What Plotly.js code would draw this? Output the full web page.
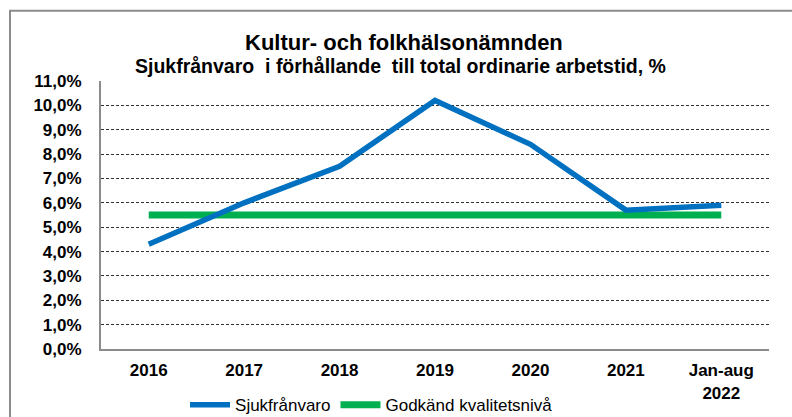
<!DOCTYPE html>
<html>
<head>
<meta charset="utf-8">
<script src="https://cdn.plot.ly/plotly-3.0.1.min.js"></script>
<style>html,body{margin:0;padding:0;background:#fff;}#chart{width:792px;height:417px;}</style>
</head>
<body>
<div id="chart"></div>
<script>
const categories = ["2016", "2017", "2018", "2019", "2020", "2021", "Jan-aug<br>2022"];
const sjukfranvaro = [4.3, 6.0, 7.5, 10.2, 8.4, 5.7, 5.9];
const godkandNiva = [5.5, 5.5, 5.5, 5.5, 5.5, 5.5, 5.5];
const yTicks = [0, 1, 2, 3, 4, 5, 6, 7, 8, 9, 10, 11];

const FONT = "Liberation Sans, Arial, sans-serif";

const traces = [
  {
    x: categories, y: godkandNiva, type: "scatter", mode: "lines",
    name: "Godkänd kvalitetsnivå", legendrank: 2,
    line: {color: "#00B050", width: 7}
  },
  {
    x: categories, y: sjukfranvaro, type: "scatter", mode: "lines",
    name: "Sjukfrånvaro", legendrank: 1,
    line: {color: "#0070C0", width: 5.5}
  }
];

const layout = {
  width: 792, height: 417,
  margin: {l: 101, r: 23, t: 81, b: 68, autoexpand: false},
  paper_bgcolor: "#fff", plot_bgcolor: "#fff",
  separators: ", ",
  font: {family: FONT, color: "#000"},
  showlegend: true,
  legend: {
    orientation: "h", x: 0.405, xanchor: "center", y: -0.21, yanchor: "middle",
    font: {family: FONT, size: 17, color: "#000"},
    itemwidth: 40, tracegroupgap: 0
  },
  title: {
    text: "<b>Kultur- och folkhälsonämnden</b>",
    x: 0.51, xanchor: "center", xref: "container",
    y: 1 - 42 / 417, yanchor: "middle", yref: "container",
    font: {family: FONT, size: 22, color: "#000"}
  },
  annotations: [{
    text: "<b>Sjukfrånvaro  i förhållande  till total ordinarie arbetstid, %</b>",
    xref: "paper", yref: "paper", x: 0.449, y: (348.5 - 66) / 267.5,
    xanchor: "center", yanchor: "middle", showarrow: false,
    font: {family: FONT, size: 19.5, color: "#000"}
  }],
  xaxis: {
    type: "category", range: [-0.5, 6.5], automargin: false,
    showgrid: false, zeroline: false,
    showline: true, linecolor: "#8c8c8c", linewidth: 2,
    ticks: "", ticklabelstandoff: 5,
    tickfont: {family: FONT, size: 17, weight: "bold", color: "#000"},
    fixedrange: true
  },
  yaxis: {
    range: [0, 11], automargin: false,
    tickvals: yTicks, ticktext: yTicks.map(v => v.toFixed(1).replace(".", ",") + "%"),
    showgrid: true, gridcolor: "#333", griddash: "3px,2px", gridwidth: 1,
    zeroline: false, showline: true, linecolor: "#8c8c8c", linewidth: 2,
    ticks: "", ticklabelstandoff: 14,
    tickfont: {family: FONT, size: 17, weight: "bold", color: "#000"},
    fixedrange: true
  },
  shapes: [{
    type: "rect", xref: "paper", yref: "paper",
    x0: (10 - 101) / 668, x1: 1.2, y0: -0.6, y1: (348.5 - 11) / 267.5,
    line: {color: "#8c8c8c", width: 2}, fillcolor: "rgba(0,0,0,0)", layer: "above"
  }]
};

Plotly.newPlot("chart", traces, layout, {displayModeBar: false, staticPlot: true});
</script>
</body>
</html>
